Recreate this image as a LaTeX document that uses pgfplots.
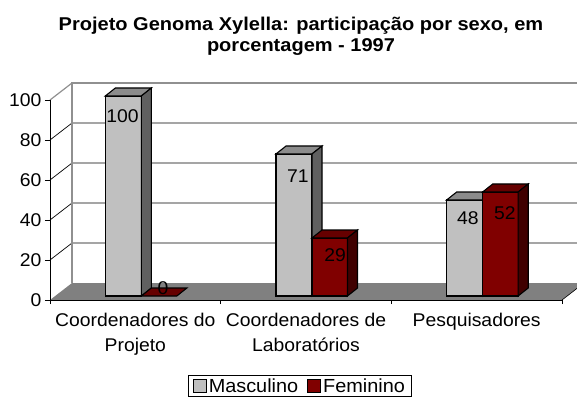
\documentclass[border=0pt]{standalone}
\usepackage{fontspec}
\setmainfont{Liberation Sans}[FakeStretch=1.05]
\newfontfamily\titlefont{Liberation Sans}[FakeStretch=1.08]
\usepackage{pgfplots}
\pgfplotsset{compat=1.18}
\definecolor{malefront}{HTML}{C0C0C0}
\definecolor{maletop}{HTML}{8C8C8C}
\definecolor{maleside}{HTML}{606060}
\definecolor{femfront}{HTML}{800000}
\definecolor{femtop}{HTML}{660000}
\definecolor{femside}{HTML}{400000}
\definecolor{floorgray}{HTML}{808080}
\definecolor{wallgray}{HTML}{909090}
\begin{document}
\begin{tikzpicture}
\begin{axis}[
  at={(0,0)}, anchor=south west,
  scale only axis, width=512bp, height=200bp,
  xmin=0.5, xmax=3.5, ymin=0, ymax=100,
  clip=false,
  axis x line=bottom, axis y line=left,
  axis line style={-, black, line width=0.8bp},
  xtick={1,2,3},
  xticklabels={{Coordenadores do\\Projeto},{Coordenadores de\\Laboratórios},{Pesquisadores}},
  minor xtick={0.5,1.5,2.5,3.5},
  ytick={0,20,...,100},
  tick align=outside,
  major tick length=5bp, minor tick length=4bp,
  major x tick style={draw=none},
  minor x tick style={black, line width=0.8bp},
  y tick style={black, line width=0.8bp},
  /pgf/number format/assume math mode=true,
  ticklabel style={font=\fontsize{18.5}{25}\selectfont},
  xticklabel style={align=center, yshift=-5bp},
  axis on top,
  legend image code/.code={\draw[#1, draw=black, line width=1bp] (0bp,-6.5bp) rectangle (13bp,6.5bp);},
  legend style={at={(0.488,-0.43)}, anchor=center, draw=black, line width=0.8bp,
    font=\fontsize{19}{22}\selectfont, inner xsep=4bp, inner ysep=1bp,
    /tikz/every even column/.append style={column sep=7bp}},
  legend columns=2,
  legend cell align=left,
]
\addlegendimage{fill=malefront}
\addlegendentry{Masculino}
\addlegendimage{fill=femfront}
\addlegendentry{Feminino}

% floor and walls
\fill[floorgray] (axis cs:0.5,0) -- (axis cs:3.5,0) -- (axis cs:3.629,8.5) -- (axis cs:0.629,8.5) -- cycle;
\draw[black, line width=0.6bp] (axis cs:3.5,0) -- (axis cs:3.629,8.5);
\draw[black, line width=0.7bp] (axis cs:0.5,20) -- (axis cs:0.629,28.5) -- (axis cs:3.7,28.5);
\draw[black, line width=0.7bp] (axis cs:0.5,40) -- (axis cs:0.629,48.5) -- (axis cs:3.7,48.5);
\draw[black, line width=0.7bp] (axis cs:0.5,60) -- (axis cs:0.629,68.5) -- (axis cs:3.7,68.5);
\draw[black, line width=0.7bp] (axis cs:0.5,80) -- (axis cs:0.629,88.5) -- (axis cs:3.7,88.5);
\draw[wallgray, line width=1.2bp] (axis cs:0.629,8.5) -- (axis cs:0.629,108.5) -- (axis cs:3.7,108.5);
\draw[wallgray, line width=1.2bp] (axis cs:0.5,100) -- (axis cs:0.629,108.5);

% Coordenadores do Projeto: M 100, F 0
\addplot[fill=malefront, draw=black, line width=1.1bp, forget plot] coordinates {(0.824,2) (1.035,2) (1.035,102) (0.824,102)} -- cycle;
\addplot[fill=maletop, draw=black, line width=1.1bp, forget plot] coordinates {(0.824,102) (1.035,102) (1.094,106) (0.883,106)} -- cycle;
\addplot[fill=maleside, draw=black, line width=1.1bp, forget plot] coordinates {(1.035,2) (1.094,6) (1.094,106) (1.035,102)} -- cycle;
\addplot[fill=femtop, draw=black, line width=1.1bp, forget plot] coordinates {(1.035,2) (1.243,2) (1.302,6) (1.094,6)} -- cycle;

% Coordenadores de Laboratorios: M 71, F 29
\addplot[fill=malefront, draw=black, line width=1.1bp, forget plot] coordinates {(1.824,2) (2.035,2) (2.035,73) (1.824,73)} -- cycle;
\addplot[fill=maletop, draw=black, line width=1.1bp, forget plot] coordinates {(1.824,73) (2.035,73) (2.094,77) (1.883,77)} -- cycle;
\addplot[fill=maleside, draw=black, line width=1.1bp, forget plot] coordinates {(2.035,2) (2.094,6) (2.094,77) (2.035,73)} -- cycle;
\addplot[fill=femfront, draw=black, line width=1.1bp, forget plot] coordinates {(2.035,2) (2.243,2) (2.243,31) (2.035,31)} -- cycle;
\addplot[fill=femtop, draw=black, line width=1.1bp, forget plot] coordinates {(2.035,31) (2.243,31) (2.302,35) (2.094,35)} -- cycle;
\addplot[fill=femside, draw=black, line width=1.1bp, forget plot] coordinates {(2.243,2) (2.302,6) (2.302,35) (2.243,31)} -- cycle;

% Pesquisadores: M 48, F 52
\addplot[fill=malefront, draw=black, line width=1.1bp, forget plot] coordinates {(2.824,2) (3.035,2) (3.035,50) (2.824,50)} -- cycle;
\addplot[fill=maletop, draw=black, line width=1.1bp, forget plot] coordinates {(2.824,50) (3.035,50) (3.094,54) (2.883,54)} -- cycle;
\addplot[fill=maleside, draw=black, line width=1.1bp, forget plot] coordinates {(3.035,2) (3.094,6) (3.094,54) (3.035,50)} -- cycle;
\addplot[fill=femfront, draw=black, line width=1.1bp, forget plot] coordinates {(3.035,2) (3.243,2) (3.243,54) (3.035,54)} -- cycle;
\addplot[fill=femtop, draw=black, line width=1.1bp, forget plot] coordinates {(3.035,54) (3.243,54) (3.302,58) (3.094,58)} -- cycle;
\addplot[fill=femside, draw=black, line width=1.1bp, forget plot] coordinates {(3.243,2) (3.302,6) (3.302,58) (3.243,54)} -- cycle;

% data labels
\addplot[draw=none, mark=none, forget plot, nodes near coords, point meta=explicit symbolic,
  every node near coord/.append style={anchor=center, inner sep=0pt, font=\fontsize{18.5}{22}\selectfont, text=black}]
  coordinates {(0.925,91.7)[100] (1.162,6)[0] (1.953,61.7)[71] (2.17,22.5)[29] (2.949,41)[48] (3.166,43.5)[52]};
\end{axis}
\node[anchor=base, font=\titlefont\bfseries\fontsize{18.6}{22}\selectfont] at (251bp,269.3bp) {Projeto Genoma Xylella: participação por sexo, em};
\node[anchor=base, font=\titlefont\bfseries\fontsize{18.6}{22}\selectfont] at (251bp,248.3bp) {porcentagem - 1997};
\pgfresetboundingbox
\useasboundingbox (-50bp,-101bp) rectangle (527bp,300bp);
\end{tikzpicture}
\end{document}
